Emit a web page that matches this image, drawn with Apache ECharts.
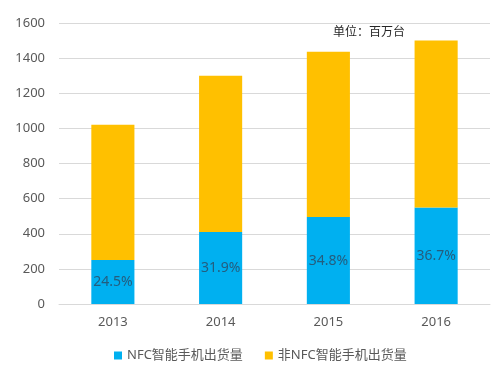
<!DOCTYPE html>
<html><head><meta charset="utf-8">
<script src="https://cdn.jsdelivr.net/npm/echarts@6/dist/echarts.min.js"></script>
<style>html,body{margin:0;padding:0;background:#fff}#c{width:500px;height:365px}</style>
</head><body><div id="c"></div>
<script>
const categories = ['2013', '2014', '2015', '2016'];
const nfcValues = [250, 410, 495, 550];
const nonNfcValues = [770, 890, 942, 950];
const nfcShareLabels = ['24.5%', '31.9%', '34.8%', '36.7%'];
const yTicks = [0, 200, 400, 600, 800, 1000, 1200, 1400, 1600];
const seriesNames = ['NFC智能手机出货量', '非NFC智能手机出货量'];
const unitText = '单位：百万台';

const font = 'Noto Sans, Noto Sans CJK SC, sans-serif';
const chart = echarts.init(document.getElementById('c'), null, {renderer: 'canvas'});
chart.setOption({
  animation: false,
  backgroundColor: '#ffffff',
  textStyle: {fontFamily: font},
  grid: {left: 59, right: 10, top: 23, bottom: 61, containLabel: false},
  legend: {
    left: 109, top: 344,
    itemWidth: 8, itemHeight: 8, itemGap: 22,
    icon: 'rect',
    textStyle: {fontSize: 13, color: '#595959', fontFamily: font},
    data: seriesNames
  },
  graphic: [{
    type: 'text', left: 333, top: 25,
    style: {text: unitText, font: '12px "Noto Sans CJK SC"', fill: '#262626'}
  }],
  xAxis: {
    type: 'category', data: categories,
    axisLine: {show: true, lineStyle: {color: '#d9d9d9'}},
    axisTick: {show: false},
    axisLabel: {color: '#595959', fontSize: 13, margin: 12, fontFamily: font}
  },
  yAxis: {
    type: 'value', min: yTicks[0], max: yTicks[yTicks.length - 1], interval: 200,
    axisLine: {show: false}, axisTick: {show: false},
    splitLine: {lineStyle: {color: '#d9d9d9'}},
    axisLabel: {color: '#595959', fontSize: 13, margin: 14, fontFamily: font,
      formatter: v => String(v)}
  },
  series: [{
    name: seriesNames[0], type: 'bar', stack: 'total',
    barWidth: '40%',
    itemStyle: {color: '#00b0f0'},
    data: nfcValues,
    label: {
      show: true, position: 'inside', fontSize: 14, color: '#245d7e', fontFamily: font,
      formatter: p => nfcShareLabels[p.dataIndex]
    }
  }, {
    name: seriesNames[1], type: 'bar', stack: 'total',
    barWidth: '40%',
    itemStyle: {color: '#ffc000'},
    data: nonNfcValues
  }]
});
</script></body></html>
